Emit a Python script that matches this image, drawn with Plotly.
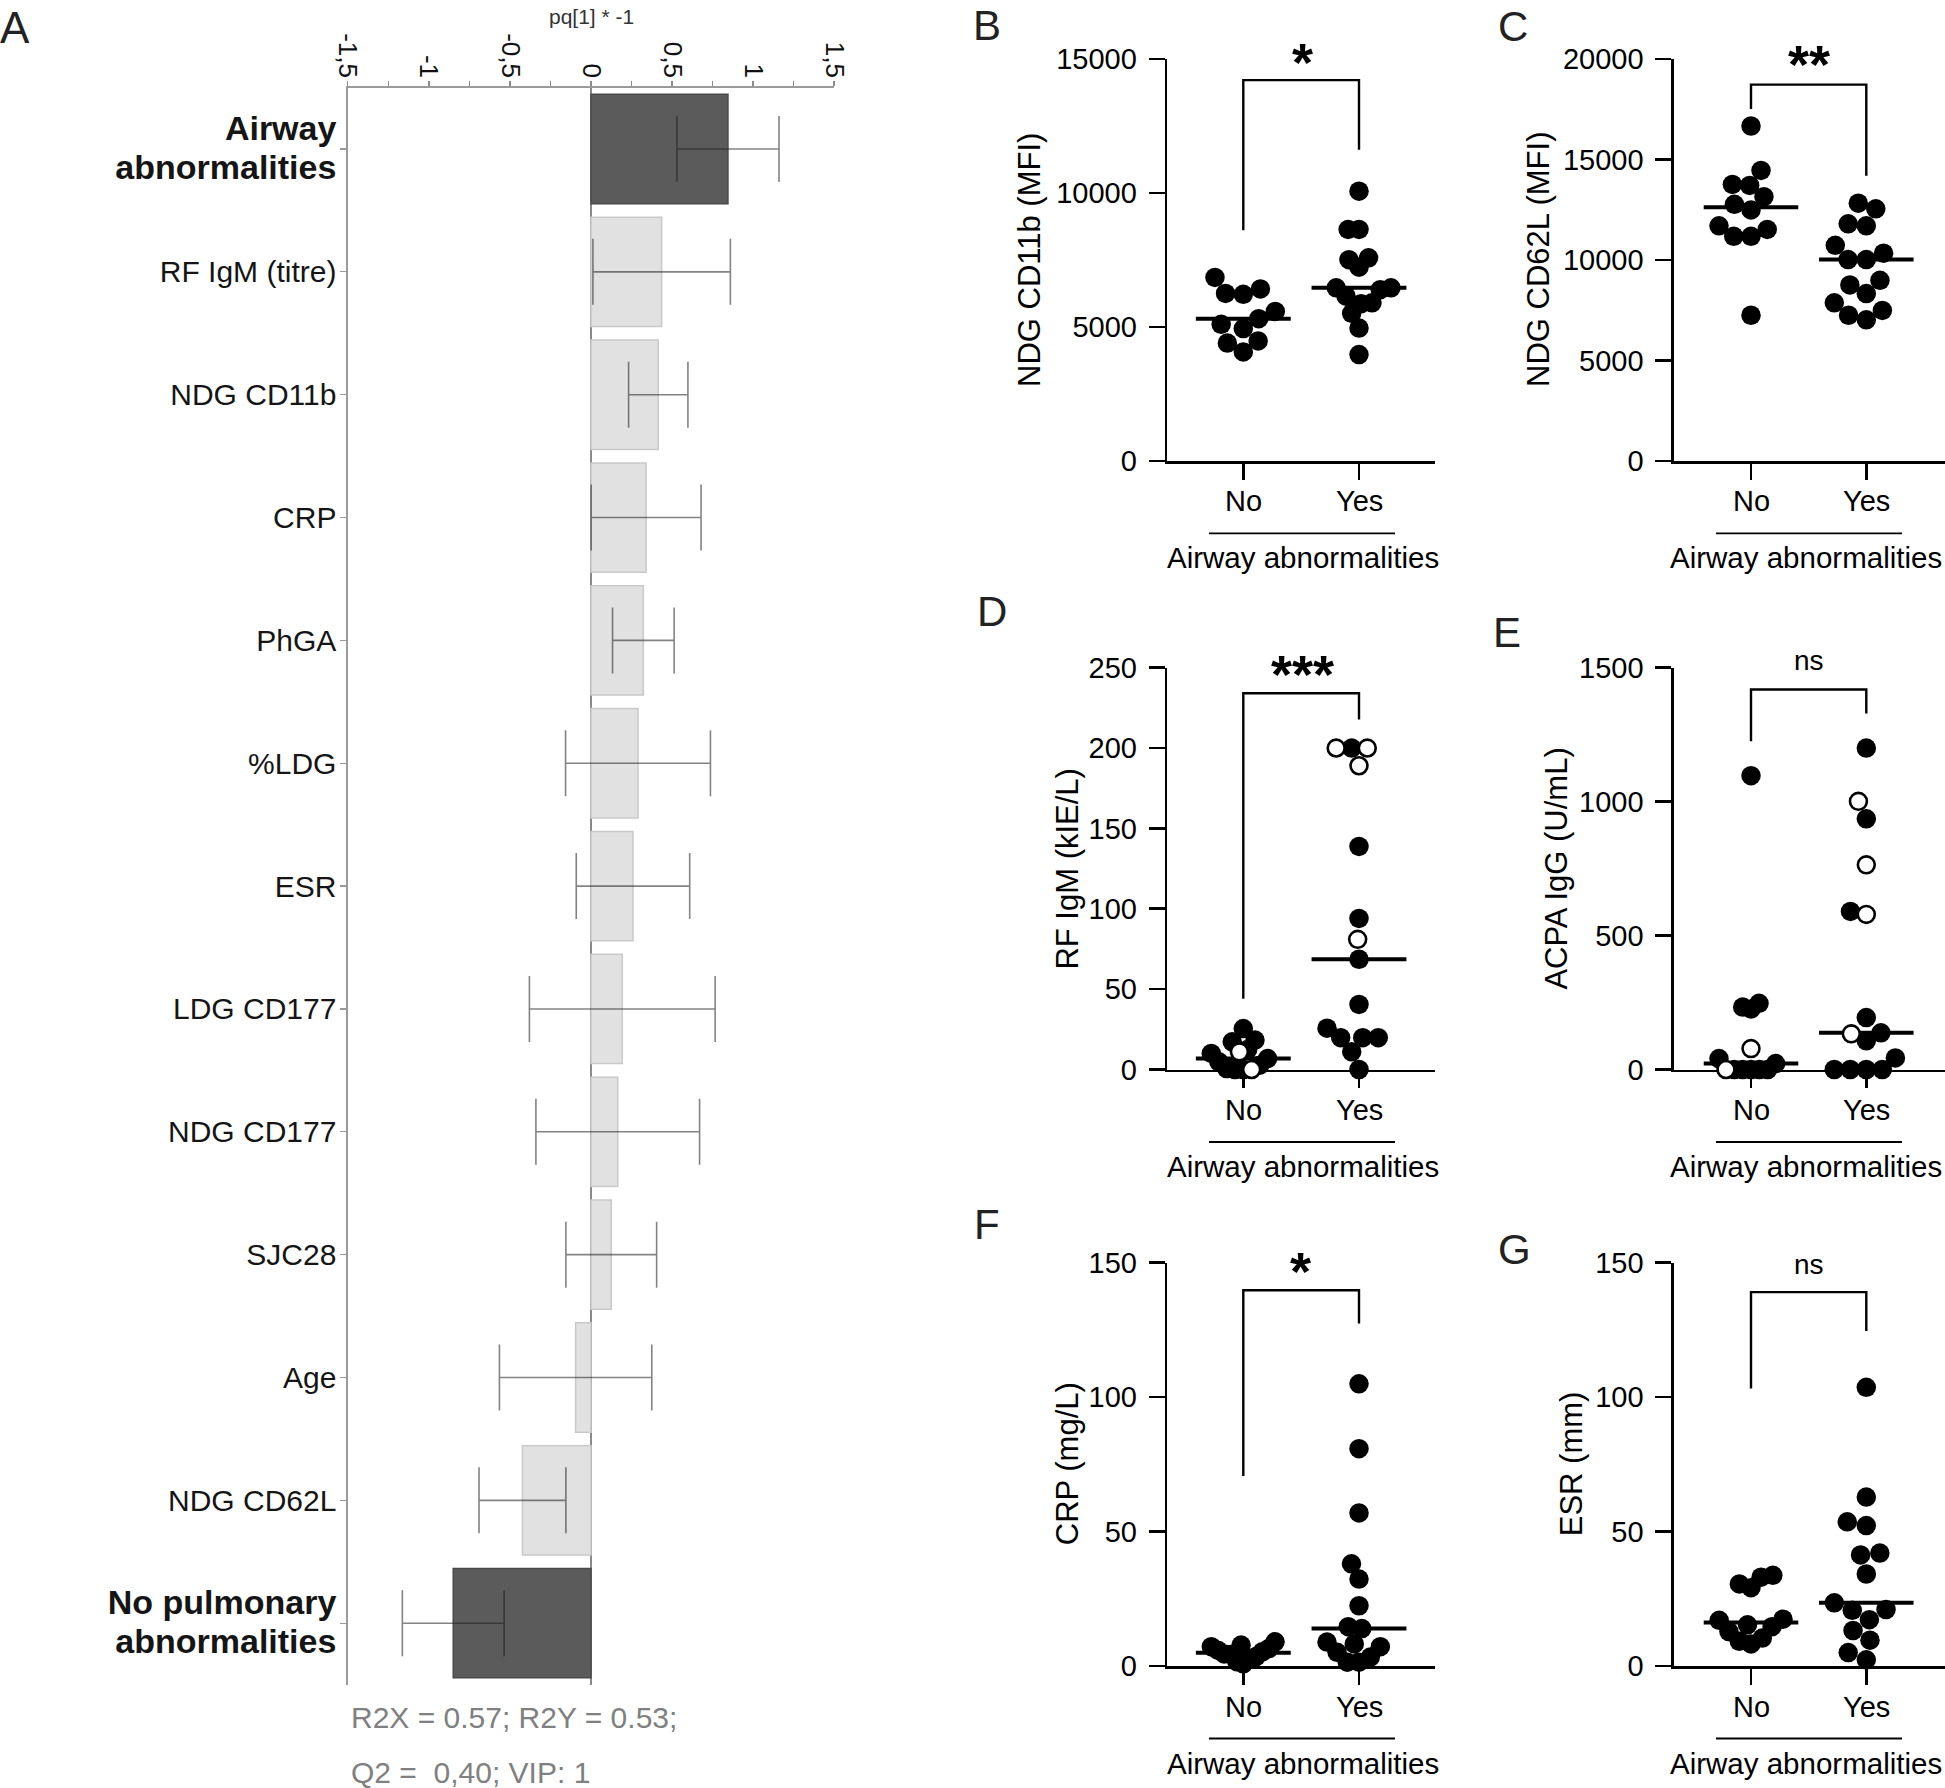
import math
import numpy as np
import plotly.graph_objects as go

W, H = 1945, 1788
FONT = "Liberation Sans, Arial, Helvetica, sans-serif"

# ---------------- DATA ----------------
# Panel A : OPLS-DA loadings pq[1] * -1 with confidence intervals
pq_labels = ['<span style="font-size:34px"><b>Airway</b><br><b>abnormalities</b></span>',
             "RF IgM (titre)", "NDG CD11b", "CRP", "PhGA",
             "%LDG", "ESR", "LDG CD177", "NDG CD177", "SJC28", "Age", "NDG CD62L",
             '<span style="font-size:34px"><b>No pulmonary</b><br><b>abnormalities</b></span>']
pq_values = [0.845, 0.436, 0.415, 0.340, 0.323, 0.290, 0.259, 0.193, 0.165, 0.125, -0.095, -0.423, -0.850]
pq_errors = [0.315, 0.424, 0.183, 0.339, 0.190, 0.447, 0.350, 0.573, 0.505, 0.280, 0.470, 0.268, 0.314]
pq_highlight = [True] + [False] * 11 + [True]
pq_ticks = [-1.5, -1, -0.5, 0, 0.5, 1, 1.5]
pq_ticktext = ["-1,5", "-1", "-0,5", "0", "0,5", "1", "1,5"]
model_text = ["R2X = 0.57; R2Y = 0.53;", "Q2 = \u00a00,40; VIP: 1"]

groups = ["No", "Yes"]
group_title = "Airway abnormalities"

# Panel B : NDG CD11b (MFI)
B_no = [6850, 6420, 6250, 6220, 5580, 5310, 5100, 4940, 4480, 4400, 4070]
B_yes = [10070, 8640, 8640, 7580, 7510, 7230, 6460, 6460, 6390, 6150, 5900, 5870, 5510, 4960, 3970]
# Panel C : NDG CD62L (MFI)
C_no = [16670, 14460, 13760, 13710, 13150, 12770, 12490, 11700, 11520, 11180, 11180, 7250]
C_yes = [12830, 12550, 11800, 11700, 10730, 10340, 10020, 10020, 8990, 8760, 8330, 7870, 7490, 7250, 7020]
# Panel D : RF IgM (kIE/L)  (filled / open symbols)
D_no_filled = [25.5, 18.3, 17.2, 12.4, 10.0, 6.8, 4.8, 2.7, 0.6, 0, 0]
D_no_open = [11.0, 0]
D_yes_filled = [200, 138.8, 94, 68.6, 40.5, 25.7, 19.8, 19.8, 19.8, 11, 0]
D_yes_open = [200, 200, 189, 81]
# Panel E : ACPA IgG (U/mL)
E_no_filled = [1097, 247, 233, 226, 41, 22, 0, 0, 0, 0, 0]
E_no_open = [78, 0]
E_yes_filled = [1200, 936, 590, 194, 137, 107, 43, 0, 0, 0, 0]
E_yes_open = [1001, 764, 579, 133]
# Panel F : CRP (mg/L)
F_no = [9.0, 7.8, 7.2, 6.5, 5.9, 5.3, 4.5, 4.3, 3.5, 2.9, 1.6, 0.8]
F_yes = [104.9, 80.8, 56.9, 38.0, 32.3, 22.4, 14.6, 13.9, 8.9, 8.2, 7.2, 5.1, 3.3, 1.4, 1.4]
# Panel G : ESR (mm)
G_no = [33.7, 33.0, 30.5, 29.1, 17.4, 17.0, 15.3, 14.6, 12.8, 10.4, 9.2, 8.2]
G_yes = [103.6, 62.8, 53.6, 52.2, 42.0, 41.3, 34.2, 23.5, 21.0, 20.7, 17.2, 13.2, 9.6, 5.0, 2.3]

# ---------------- LAYOUT HELPERS ----------------
def fx(p):
    return p / W


def fy(p):
    return 1 - p / H


cols = {
    "L": dict(axis_x=1167.3, no_x=1243.3, unit=115.7, end_x=1435, title_cx=1303, ul=(1209, 1395)),
    "R": dict(axis_x=1674.0, no_x=1751.0, unit=115.3, end_x=1945, title_cx=1806, ul=(1716, 1902)),
}
rows = {
    1: dict(y0=460.9, ytop=59.1),
    2: dict(y0=1069.5, ytop=667.7),
    3: dict(y0=1666.0, ytop=1262.5),
}

# letter_xy = (left x, top of capital letter) in px
panels = [
    dict(letter="B", col="L", row=1, ymax=15000, dtick=5000, ytitle="NDG CD11b (MFI)", ytitle_x=1030,
         no=(B_no, []), yes=(B_yes, []), sig="*", bracket=(8613, 14216, 11618), sig_xy=(1302, 56),
         letter_xy=(971, 7.5)),
    dict(letter="C", col="R", row=1, ymax=20000, dtick=5000, ytitle="NDG CD62L (MFI)", ytitle_x=1539,
         no=(C_no, []), yes=(C_yes, []), sig="**", bracket=(17511, 18729, 14196), sig_xy=(1809, 58.5),
         letter_xy=(1496, 9.4)),
    dict(letter="D", col="L", row=2, ymax=250, dtick=50, ytitle="RF IgM (kIE/L)", ytitle_x=1068,
         no=(D_no_filled, D_no_open), yes=(D_yes_filled, D_yes_open), sig="***", bracket=(44.0, 234.1, 217.8),
         sig_xy=(1302, 668.5), letter_xy=(975, 594)),
    dict(letter="E", col="R", row=2, ymax=1500, dtick=500, ytitle="ACPA IgG (U/mL)", ytitle_x=1557,
         no=(E_no_filled, E_no_open), yes=(E_yes_filled, E_yes_open), sig="ns", bracket=(1225.6, 1418.6, 1328.6),
         sig_xy=(1808.5, 662.7), letter_xy=(1491, 615)),
    dict(letter="F", col="L", row=3, ymax=150, dtick=50, ytitle="CRP (mg/L)", ytitle_x=1067,
         no=(F_no, []), yes=(F_yes, []), sig="*", bracket=(70.6, 139.7, 127.3), sig_xy=(1300, 1264.6),
         letter_xy=(972, 1207)),
    dict(letter="G", col="R", row=3, ymax=150, dtick=50, ytitle="ESR (mm)", ytitle_x=1571,
         no=(G_no, []), yes=(G_yes, []), sig="ns", bracket=(103.2, 139.0, 124.5), sig_xy=(1809, 1266),
         letter_xy=(1496, 1232)),
]

MARK = 19.5      # marker diameter (px)
DIAM = 20.0      # swarm spacing (px)
MAX_HALF = 32.0  # max half spread of a swarm (px)


def swarm(values, ppu_y, unit_x):
    """Beeswarm x-offsets (in x-axis units) computed from the values in pixel space."""
    n = len(values)
    order = sorted(range(n), key=lambda i: values[i])
    placed = []
    xs = [0.0] * n
    for i in order:
        y = values[i] * ppu_y
        cands = [0.0]
        for (a, b) in placed:
            dy = y - b
            if abs(dy) < DIAM:
                dx = math.sqrt(DIAM * DIAM - dy * dy)
                cands += [a + dx, a - dx]
        cands.sort(key=lambda c: (abs(c), c))
        chosen = cands[-1]
        for c in cands:
            if all((c - a) ** 2 + (y - b) ** 2 >= DIAM * DIAM - 1e-6 for a, b in placed):
                chosen = c
                break
        placed.append((chosen, y))
        xs[i] = chosen
    m = max(abs(v) for v in xs) if xs else 0
    if m > MAX_HALF:
        xs = [v * MAX_HALF / m for v in xs]
    return [v / unit_x for v in xs]


def letter_annotation(text, x_left, cap_top, size):
    # box top = cap top minus (ascent - cap height) of the font
    top = max(0.0, cap_top - 0.19 * size)
    return dict(text=text, x=fx(x_left), y=fy(top), xref="paper", yref="paper",
                xanchor="left", yanchor="top", showarrow=False,
                font=dict(size=size, color="#222222", family=FONT))


fig = go.Figure()
annotations = []
shapes = []
layout_axes = {}

# ---------------- PANEL A ----------------
A_left, A_right = 347.9, 834.1
A_top, A_bot = 87.6, 1684.6
bar_colors = ["#5b5b5b" if h else "#e1e1e1" for h in pq_highlight]
bar_lines = ["#4a4a4a" if h else "#c9c9c9" for h in pq_highlight]
cat_idx = list(range(len(pq_labels)))
fig.add_trace(go.Bar(
    x=pq_values, y=cat_idx, orientation="h", width=0.89,
    marker=dict(color=bar_colors, line=dict(color=bar_lines, width=1.5)),
    error_x=dict(type="data", array=pq_errors, color="rgba(30,30,30,0.55)", thickness=1.6, width=33),
    xaxis="x", yaxis="y", hoverinfo="skip", showlegend=False,
))
layout_axes["xaxis"] = dict(
    domain=[fx(A_left), fx(A_right)], range=[-1.5, 1.5], side="top", anchor="y", automargin=False,
    tickmode="array", tickvals=pq_ticks, ticktext=pq_ticktext, tickangle=90,
    ticks="outside", ticklen=5, tickwidth=1.2, tickcolor="#8a8a8a",
    minor=dict(dtick=0.25, tick0=0, ticks="outside", ticklen=5, tickwidth=1.2, tickcolor="#8a8a8a"),
    tickfont=dict(size=26, color="#111111", family=FONT), ticklabelstandoff=-6,
    showline=True, linecolor="#9a9a9a", linewidth=1.5, showgrid=False,
    zeroline=True, zerolinecolor="#8a8a8a", zerolinewidth=1.5, fixedrange=True,
)
layout_axes["yaxis"] = dict(
    domain=[fy(A_bot), fy(A_top)], range=[len(pq_labels) - 0.5, -0.5], anchor="x", automargin=False,
    tickmode="array", tickvals=cat_idx, ticktext=pq_labels,
    ticks="outside", ticklen=6, tickwidth=1.2, tickcolor="#9a9a9a",
    tickfont=dict(size=30, color="#151515", family=FONT), ticklabelstandoff=-2,
    showline=True, linecolor="#9a9a9a", linewidth=1.5, showgrid=False, zeroline=False, fixedrange=True,
)
annotations.append(dict(text="pq[1] * -1", x=fx(591), y=fy(16), xref="paper", yref="paper",
                        xanchor="center", yanchor="middle", showarrow=False,
                        font=dict(size=21, color="#333333", family=FONT)))
for t, yy in zip(model_text, [1717, 1772]):
    annotations.append(dict(text=t, x=fx(349), y=fy(yy), xref="paper", yref="paper",
                            xanchor="left", yanchor="middle", showarrow=False,
                            font=dict(size=30, color="#808080", family=FONT)))
annotations.append(letter_annotation("A", -2, 9, 44))

# ---------------- PANELS B-G ----------------
for i, p in enumerate(panels):
    k = i + 2
    c = cols[p["col"]]
    r = rows[p["row"]]
    xname, yname = f"x{k}", f"y{k}"
    ppu_y = (r["y0"] - r["ytop"]) / p["ymax"]
    xr = [(c["axis_x"] - c["no_x"]) / c["unit"], (c["end_x"] - c["no_x"]) / c["unit"]]
    yt = list(range(0, p["ymax"] + 1, p["dtick"]))
    layout_axes[f"xaxis{k}"] = dict(
        domain=[fx(c["axis_x"]), min(1.0, fx(c["end_x"]))], range=xr, anchor=yname, automargin=False,
        tickmode="array", tickvals=[0, 1], showticklabels=False,
        ticks="outside", ticklen=16, tickwidth=2.6, tickcolor="black",
        showline=True, linecolor="black", linewidth=2.6, showgrid=False, zeroline=False,
        layer="below traces", fixedrange=True,
    )
    layout_axes[f"yaxis{k}"] = dict(
        domain=[fy(r["y0"]), fy(r["ytop"])], range=[0, p["ymax"]], anchor=xname, automargin=False,
        tickmode="array", tickvals=yt, ticktext=[str(v) for v in yt],
        ticks="outside", ticklen=16, tickwidth=2.6, tickcolor="black",
        tickfont=dict(size=29, color="black", family=FONT), ticklabelstandoff=6,
        showline=True, linecolor="black", linewidth=2.6, showgrid=False, zeroline=False,
        layer="below traces", fixedrange=True,
    )
    for g, (filled, opened) in enumerate([p["no"], p["yes"]]):
        allv = list(filled) + list(opened)
        offs = swarm(allv, ppu_y, c["unit"])
        med = float(np.median(allv))
        fig.add_trace(go.Scatter(x=[g - 0.41, g + 0.41], y=[med, med], mode="lines",
                                 line=dict(color="black", width=4), xaxis=xname, yaxis=yname,
                                 hoverinfo="skip", showlegend=False))
        nf = len(filled)
        fig.add_trace(go.Scatter(x=[g + o for o in offs[:nf]], y=allv[:nf], mode="markers",
                                 marker=dict(size=MARK, color="black", line=dict(width=0)),
                                 cliponaxis=False, xaxis=xname, yaxis=yname,
                                 hoverinfo="skip", showlegend=False))
        if opened:
            fig.add_trace(go.Scatter(x=[g + o for o in offs[nf:]], y=allv[nf:], mode="markers",
                                     marker=dict(size=MARK - 2.6, color="white",
                                                 line=dict(width=2.6, color="black")),
                                     cliponaxis=False, xaxis=xname, yaxis=yname,
                                     hoverinfo="skip", showlegend=False))
    # significance bracket
    lb, top, rb = p["bracket"]
    shapes.append(dict(type="path", xref=xname, yref=yname,
                       path=f"M 0,{lb} L 0,{top} L 1,{top} L 1,{rb}",
                       line=dict(color="black", width=2.4)))
    if p["sig"].startswith("*"):
        fs, dy, txt = 54, 0.11 * 54, f"<b>{p['sig']}</b>"
    else:
        fs, dy, txt = 28, -2, p["sig"]
    sx, sy = p["sig_xy"]
    annotations.append(dict(text=txt, x=fx(sx), y=fy(sy + dy),
                            xref="paper", yref="paper", xanchor="center", yanchor="middle",
                            showarrow=False, font=dict(size=fs, color="black", family=FONT)))
    # category labels
    for g, name in enumerate(groups):
        annotations.append(dict(text=name, x=fx(c["no_x"] + g * c["unit"]), y=fy(r["y0"] + 40.5),
                                xref="paper", yref="paper", xanchor="center", yanchor="middle",
                                showarrow=False, font=dict(size=29, color="black", family=FONT)))
    # group underline + title
    shapes.append(dict(type="line", xref="paper", yref="paper",
                       x0=fx(c["ul"][0]), x1=fx(c["ul"][1]), y0=fy(r["y0"] + 72.5), y1=fy(r["y0"] + 72.5),
                       line=dict(color="black", width=1.8)))
    annotations.append(dict(text=group_title, x=fx(c["title_cx"]), y=fy(r["y0"] + 97),
                            xref="paper", yref="paper", xanchor="center", yanchor="middle",
                            showarrow=False, font=dict(size=29.5, color="black", family=FONT)))
    # y title
    annotations.append(dict(text=p["ytitle"], x=fx(p["ytitle_x"]), y=fy((r["y0"] + r["ytop"]) / 2),
                            xref="paper", yref="paper", xanchor="center", yanchor="middle", textangle=-90,
                            showarrow=False, font=dict(size=31, color="black", family=FONT)))
    lx, ly = p["letter_xy"]
    annotations.append(letter_annotation(p["letter"], lx, ly, 42))

fig.update_layout(
    width=W, height=H, margin=dict(l=0, r=0, t=0, b=0, pad=0, autoexpand=False),
    paper_bgcolor="white", plot_bgcolor="rgba(0,0,0,0)",
    font=dict(family=FONT, color="black"),
    showlegend=False, annotations=annotations, shapes=shapes, bargap=0.1,
    **layout_axes,
)
fig.write_html("out.html", include_plotlyjs=True,
               config={"displayModeBar": False, "staticPlot": True},
               post_script="document.body.style.margin='0';document.body.style.overflow='hidden';")
